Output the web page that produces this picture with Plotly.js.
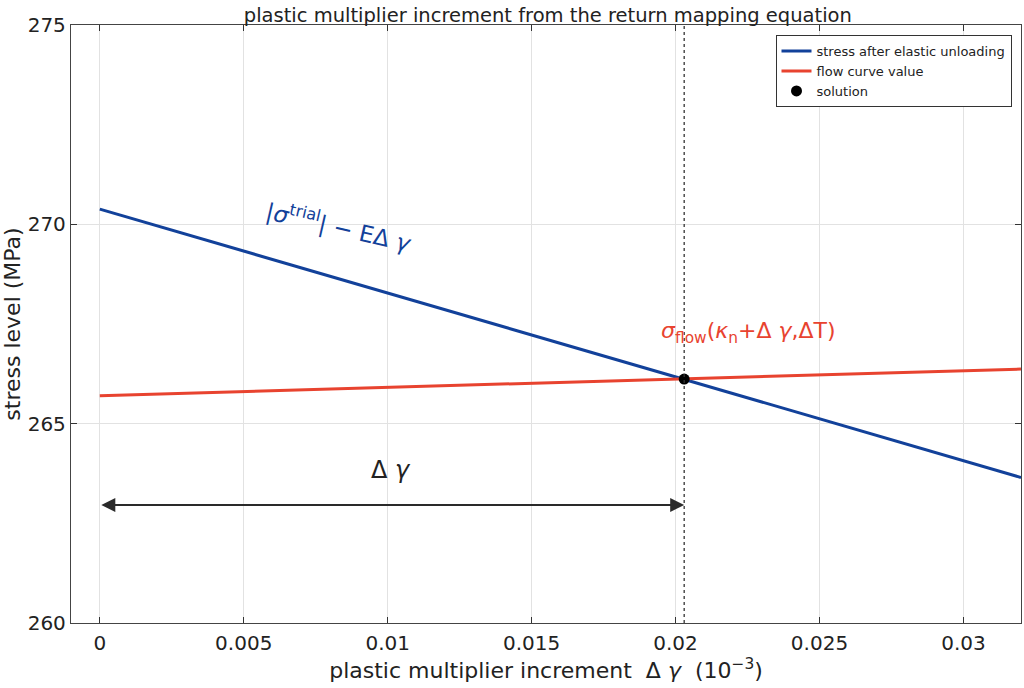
<!DOCTYPE html>
<html>
<head>
<meta charset="utf-8">
<script src="https://cdn.plot.ly/plotly-3.0.1.min.js"></script>
<style>
  html, body { margin: 0; padding: 0; background: #fff; }
  #chart { width: 1024px; height: 688px; }
</style>
</head>
<body>
<div id="chart"></div>
<script>
// line end points
let gammaRange = [0, 0.032];
let stressUnloading = [270.38, 263.65];   // |sigma_trial| - E*dgamma
let flowCurve = [265.70, 266.37];         // sigma_flow(kappa_n + dgamma, dT)
let solutionX = [0.0203];
let solutionY = [266.12];
let arrowY = 262.96;

let fontName = "DejaVu Sans, sans-serif";
let blue = "#12419a";
let red = "#e8432f";

let trace1 = {
    x: gammaRange,
    y: stressUnloading,
    mode: "lines",
    type: "scatter",
    name: "stress after elastic unloading",
    line: {color: blue, width: 3}
};

let trace2 = {
    x: gammaRange,
    y: flowCurve,
    mode: "lines",
    type: "scatter",
    name: "flow curve value",
    line: {color: red, width: 3}
};

let trace3 = {
    x: solutionX,
    y: solutionY,
    mode: "markers",
    type: "scatter",
    name: "solution",
    marker: {color: "#000", size: 11}
};

let layout = {
    width: 1024,
    height: 688,
    margin: {l: 71, r: 3, t: 25, b: 65},
    paper_bgcolor: "#fff",
    plot_bgcolor: "#fff",
    font: {family: fontName, size: 20, color: "#222"},
    title: {
        text: "plastic multiplier increment from the return mapping equation",
        font: {size: 19.5, color: "#222"},
        x: 0.535, xanchor: "center",
        yref: "paper", y: 1, yanchor: "bottom",
        pad: {b: 3}
    },
    xaxis: {
        range: [-0.001, 0.032],
        tickvals: [0, 0.005, 0.01, 0.015, 0.02, 0.025, 0.03],
        ticktext: ["0", "0.005", "0.01", "0.015", "0.02", "0.025", "0.03"],
        ticks: "inside", ticklen: 6, tickcolor: "#333",
        showline: true, mirror: "ticks", linecolor: "#444", linewidth: 1.3,
        showgrid: true, gridcolor: "#e2e2e2", zeroline: false,
        tickfont: {size: 20}, ticklabelstandoff: 2,
        title: {text: "plastic multiplier increment  Δ <i>γ</i>  (10<sup>−3</sup>)", font: {size: 22}, standoff: 0}
    },
    yaxis: {
        range: [260, 275],
        tickvals: [260, 265, 270, 275],
        ticks: "inside", ticklen: 6, tickcolor: "#333",
        showline: true, mirror: "ticks", linecolor: "#444", linewidth: 1.3,
        showgrid: true, gridcolor: "#e2e2e2", zeroline: false,
        tickfont: {size: 20},
        title: {text: "stress level (MPa)", font: {size: 22}, standoff: 2}
    },
    legend: {
        x: 0.99, xanchor: "right",
        y: 0.983, yanchor: "top",
        bgcolor: "#fff", bordercolor: "#333", borderwidth: 1,
        font: {size: 13, color: "#222"},
        tracegroupgap: 0, itemwidth: 30
    },
    shapes: [{
        type: "line", xref: "x", yref: "paper",
        x0: solutionX[0], x1: solutionX[0], y0: 0, y1: 1,
        line: {color: "#333", width: 1.3, dash: "dot"}
    }],
    annotations: [
        {
            x: solutionX[0], y: arrowY, ax: 0, ay: arrowY,
            xref: "x", yref: "y", axref: "x", ayref: "y",
            showarrow: true, arrowside: "end+start", arrowhead: 2,
            arrowsize: 1.4, arrowwidth: 2, arrowcolor: "#2a2a2a",
            text: ""
        },
        {
            x: 0.0101, y: 263.83, xref: "x", yref: "y", showarrow: false,
            text: "Δ <i>γ</i>", font: {size: 24, color: "#222"}
        },
        {
            x: 0.0083, y: 269.97, xref: "x", yref: "y", showarrow: false,
            textangle: 13,
            text: "|<i>σ</i><sup>trial</sup>| − EΔ <i>γ</i>", font: {size: 23, color: blue}
        },
        {
            x: 0.02255, y: 267.29, xref: "x", yref: "y", showarrow: false,
            text: "<i>σ</i><sub>flow</sub>(<i>κ</i><sub>n</sub>+Δ <i>γ</i>,ΔT)", font: {size: 22, color: red}
        }
    ]
};

Plotly.newPlot("chart", [trace1, trace2, trace3], layout, {displayModeBar: false});
</script>
</body>
</html>
